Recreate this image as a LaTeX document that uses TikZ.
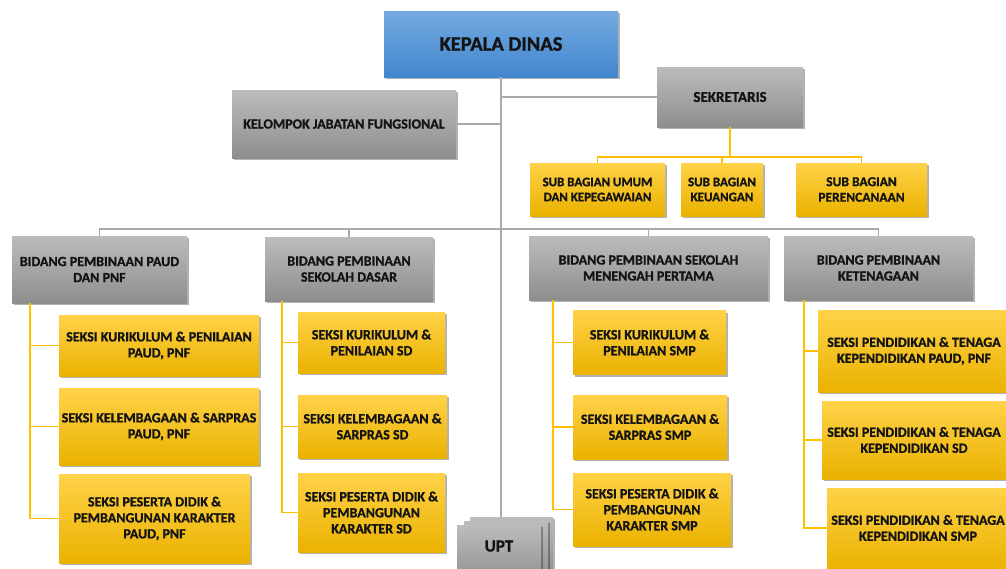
\documentclass[tikz,border=0pt]{standalone}
\usepackage{fontspec}
\setmainfont{Carlito}[BoldFeatures={FakeBold=1.2}]
\usetikzlibrary{shadows}
\definecolor{btop}{RGB}{115,170,224}
\definecolor{bbot}{RGB}{66,134,206}
\definecolor{gtop}{RGB}{188,188,188}
\definecolor{gbot}{RGB}{142,142,142}
\definecolor{ytop}{RGB}{255,210,72}
\definecolor{ybot}{RGB}{234,178,0}
\definecolor{gl}{RGB}{170,170,170}
\definecolor{yl}{RGB}{255,192,0}
\definecolor{tx}{RGB}{20,20,20}
\tikzset{
  box/.style={draw=none, inner sep=0pt, align=center, text=tx,
    font=\bfseries\fontsize{14}{16}\selectfont,
    drop shadow={shadow xshift=1.5pt, shadow yshift=-2pt, opacity=0.3, fill=black}},
  bbox/.style={box, top color=btop, bottom color=bbot},
  gbox/.style={box, top color=gtop, bottom color=gbot},
  ybox/.style={box, top color=ytop, bottom color=ybot},
  gline/.style={draw=gl, line width=1.1pt},
  yline/.style={draw=yl, line width=1.1pt},
}
\begin{document}
\begin{tikzpicture}[x=1pt,y=-1pt]
\useasboundingbox (0,0) rectangle (1006,568);
\clip (0,0) rectangle (1006,568);
\fill[white] (0,0) rectangle (1006,568);

% top level
\node[bbox, minimum width=234pt, minimum height=66pt, font=\bfseries\fontsize{20.5}{22}\selectfont] (kd) at (501,44) {KEPALA DINAS};
\node[gbox, minimum width=146pt, minimum height=60pt, font=\bfseries\fontsize{15}{17}\selectfont] (sek) at (730,97) {SEKRETARIS};
\node[gbox, minimum width=224pt, minimum height=68pt] (kjf) at (344,124) {KELOMPOK JABATAN FUNGSIONAL};

% sub bagian
\node[ybox, minimum width=135pt, minimum height=53pt, font=\bfseries\fontsize{12.9}{15}\selectfont] (sub1) at (597.5,189.5) {SUB BAGIAN UMUM\\DAN KEPEGAWAIAN};
\node[ybox, minimum width=82pt, minimum height=53pt, font=\bfseries\fontsize{13}{15}\selectfont] (sub2) at (722,189.5) {SUB BAGIAN\\KEUANGAN};
\node[ybox, minimum width=131pt, minimum height=53pt, font=\bfseries\fontsize{13.5}{15.5}\selectfont] (sub3) at (861.5,189.5) {SUB BAGIAN\\PERENCANAAN};

% bidang
\node[gbox, minimum width=175pt, minimum height=67pt] (paud) at (99.5,269.5) {BIDANG PEMBINAAN PAUD\\DAN PNF};
\node[gbox, minimum width=168pt, minimum height=64pt] (sd) at (349,269) {BIDANG PEMBINAAN\\SEKOLAH DASAR};
\node[gbox, minimum width=239pt, minimum height=64pt] (smp) at (648.5,268) {BIDANG PEMBINAAN SEKOLAH\\MENENGAH PERTAMA};
\node[gbox, minimum width=189pt, minimum height=64pt] (ket) at (878.5,268) {BIDANG PEMBINAAN\\KETENAGAAN};

% seksi PAUD
\node[ybox, minimum width=200pt, minimum height=61pt] (p1) at (159,345.5) {SEKSI KURIKULUM \& PENILAIAN\\PAUD, PNF};
\node[ybox, minimum width=200pt, minimum height=77pt] (p2) at (159,426.5) {SEKSI KELEMBAGAAN \& SARPRAS\\PAUD, PNF};
\node[ybox, minimum width=191pt, minimum height=89pt] (p3) at (154.5,518.5) {SEKSI PESERTA DIDIK \&\\PEMBANGUNAN KARAKTER\\PAUD, PNF};

% seksi SD
\node[ybox, minimum width=147pt, minimum height=61pt] (d1) at (371.5,342.5) {SEKSI KURIKULUM \&\\PENILAIAN SD};
\node[ybox, minimum width=149pt, minimum height=63pt] (d2) at (372.5,426.5) {SEKSI KELEMBAGAAN \&\\SARPRAS SD};
\node[ybox, minimum width=147pt, minimum height=79pt] (d3) at (371.5,512.5) {SEKSI PESERTA DIDIK \&\\PEMBANGUNAN\\KARAKTER SD};

% seksi SMP
\node[ybox, minimum width=153pt, minimum height=64pt] (m1) at (649.5,342.5) {SEKSI KURIKULUM \&\\PENILAIAN SMP};
\node[ybox, minimum width=154pt, minimum height=64pt] (m2) at (650,427) {SEKSI KELEMBAGAAN \&\\SARPRAS SMP};
\node[ybox, minimum width=158pt, minimum height=73pt] (m3) at (652,509.5) {SEKSI PESERTA DIDIK \&\\PEMBANGUNAN\\KARAKTER SMP};

% seksi ketenagaan
\node[ybox, minimum width=192pt, minimum height=82pt] (k1) at (914,351) {SEKSI PENDIDIKAN \& TENAGA\\KEPENDIDIKAN PAUD, PNF};
\node[ybox, minimum width=184pt, minimum height=78pt] (k2) at (914,440) {SEKSI PENDIDIKAN \& TENAGA\\KEPENDIDIKAN SD};
\node[ybox, minimum width=182pt, minimum height=80pt] (k3) at (918,528) {SEKSI PENDIDIKAN \& TENAGA\\KEPENDIDIKAN SMP};

% UPT stack
\node[gbox, minimum width=83pt, minimum height=60pt] (uptb) at (511.5,547) {};
\node[gbox, minimum width=84pt, minimum height=60pt] (uptm) at (506,551) {};
\node[gbox, minimum width=84pt, minimum height=60pt, font=\bfseries\fontsize{17}{19}\selectfont] (upt) at (499,555) {\raisebox{18pt}{UPT}};

% connectors: top level (gray)
\draw[gline] (kd.south) -- (kd.south |- uptb.north);
\draw[gline] (kjf.east) -- (kjf.east -| kd.south);
\draw[gline] (sek.west) -- (sek.west -| kd.south);
\coordinate (bus) at (501,229);
\draw[gline] (paud.north) -- (paud.north |- bus) -| (ket.north);
\draw[gline] (sd.north) -- (sd.north |- bus);
\draw[gline] (smp.north) -- (smp.north |- bus);

% sekretaris to sub bagian (yellow)
\coordinate (sbus) at (730,157);
\draw[yline] (sek.south) -- (sbus);
\draw[yline] (sub1.north) -- (sub1.north |- sbus) -| (sub3.north);
\draw[yline] (sub2.north) -- (sub2.north |- sbus);

% PAUD column
\coordinate (cp) at (30,0);
\draw[yline] (paud.south -| cp) |- (p3.west);
\draw[yline] (p1.west) -- (p1.west -| cp);
\draw[yline] (p2.west) -- (p2.west -| cp);
% SD column
\coordinate (cd) at (282,0);
\draw[yline] (sd.south -| cd) |- (d3.west);
\draw[yline] (d1.west) -- (d1.west -| cd);
\draw[yline] (d2.west) -- (d2.west -| cd);
% SMP column
\coordinate (cm) at (553,0);
\draw[yline] (smp.south -| cm) |- (m3.west);
\draw[yline] (m1.west) -- (m1.west -| cm);
\draw[yline] (m2.west) -- (m2.west -| cm);
% Ketenagaan column
\coordinate (ck) at (804,0);
\draw[yline] (ket.south -| ck) |- (k3.west);
\draw[yline] (k1.west) -- (k1.west -| ck);
\draw[yline] (k2.west) -- (k2.west -| ck);
\end{tikzpicture}
\end{document}
